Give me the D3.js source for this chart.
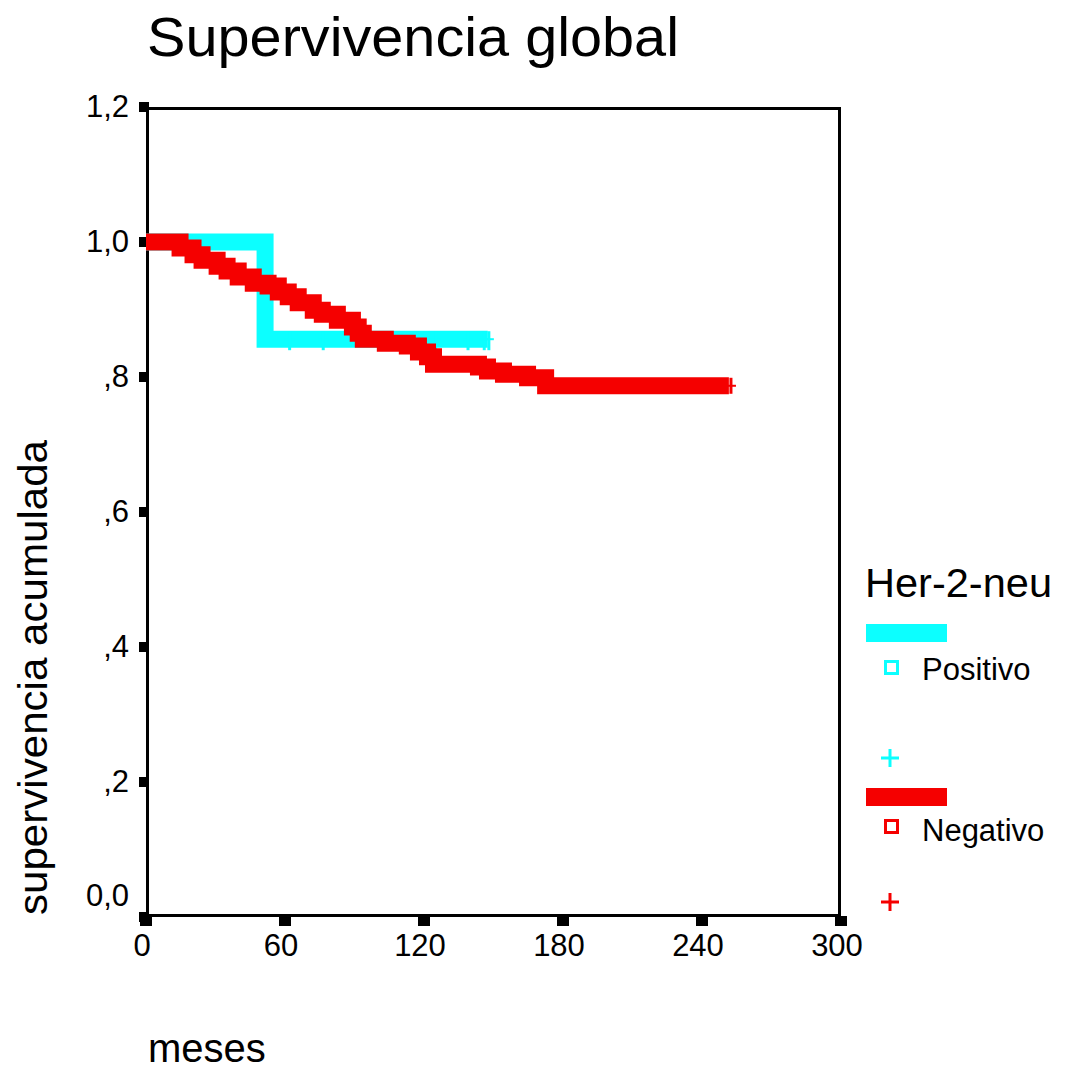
<!DOCTYPE html>
<html>
<head>
<meta charset="utf-8">
<script src="https://d3js.org/d3.v7.min.js"></script>
<style>
  html, body { margin: 0; padding: 0; background: #fff; }
  svg text { font-family: "Liberation Sans", Arial, sans-serif; fill: #000; }
</style>
</head>
<body>
<div id="chart"></div>
<script>
// Supervivencia global - Kaplan-Meier por Her-2-neu
const xTicks = [0, 60, 120, 180, 240, 300];
const yTicks = [0, 0.2, 0.4, 0.6, 0.8, 1.0, 1.2];
const yTickLabels = ["0,0", ",2", ",4", ",6", ",8", "1,0", "1,2"];

// Positivo (cyan)
const posTimes = [0, 51.4, 147.5];
const posSurv = [1.0, 0.856, 0.856];
const posCensor = [62, 76.5, 125, 139, 146, 148];

// Negativo (red)
const negTimes = [0, 14.7, 20.3, 24.2, 30.7, 35.0, 39.8, 46.3, 52.7, 57.1, 61.4, 65.7, 72.2, 76.1,
  82.6, 89.1, 91.6, 93.8, 103.3, 112.8, 117.6, 121.5, 124.1, 143.5, 147.4, 154.3, 164.7, 172.5, 251.6];
const negSurv = [1.0, 0.991, 0.981, 0.973, 0.964, 0.957, 0.948, 0.939, 0.935, 0.926, 0.919, 0.910, 0.899, 0.893,
  0.884, 0.874, 0.865, 0.856, 0.850, 0.846, 0.837, 0.830, 0.819, 0.815, 0.809, 0.804, 0.799, 0.787, 0.787];
const negCensor = [252.5];

const CYAN = "#0cffff";
const RED = "#f50000";

const width = 1065, height = 1070;
const svg = d3.select("#chart").append("svg")
  .attr("width", width).attr("height", height);

const x = d3.scaleLinear().domain([0, 300]).range([146, 841]);
const y = d3.scaleLinear().domain([0, 1.2]).range([917, 107]);

// marco
svg.append("rect")
  .attr("x", 147.5).attr("y", 108.5)
  .attr("width", 692).attr("height", 807)
  .attr("fill", "none").attr("stroke", "#000").attr("stroke-width", 3);

// ticks eje y
svg.selectAll(".ytick").data(yTicks).enter().append("rect")
  .attr("x", 139).attr("y", d => y(d) - 5)
  .attr("width", 10).attr("height", 10).attr("fill", "#000");
svg.selectAll(".ylab").data(yTicks).enter().append("text")
  .attr("x", 129)
  .attr("y", (d, i) => i === 0 ? 906 : y(d) + 10)
  .attr("text-anchor", "end")
  .attr("font-size", 31)
  .text((d, i) => yTickLabels[i]);

// ticks eje x
svg.selectAll(".xtick").data(xTicks).enter().append("rect")
  .attr("x", d => x(d) - 6).attr("y", 916)
  .attr("width", 12).attr("height", 10).attr("fill", "#000");
svg.selectAll(".xlab").data(xTicks).enter().append("text")
  .attr("x", d => x(d) - 4).attr("y", 956)
  .attr("text-anchor", "middle")
  .attr("font-size", 31)
  .text(d => d);

// curvas
const line = d3.line()
  .x(d => x(d[0])).y(d => y(d[1]))
  .curve(d3.curveStepAfter);

function survAt(times, surv, t) {
  let s = surv[0];
  for (let i = 0; i < times.length; i++) if (times[i] <= t) s = surv[i];
  return s;
}

function drawSeries(times, surv, censor, color, tail) {
  svg.append("path")
    .datum(times.map((t, i) => [t, surv[i]]))
    .attr("d", line)
    .attr("fill", "none")
    .attr("stroke", color)
    .attr("stroke-width", 17);
  const g = svg.append("g");
  censor.forEach(t => {
    const cx = x(t), cy = y(survAt(times, surv, t));
    g.append("line").attr("x1", cx - 5).attr("x2", cx + 5).attr("y1", cy).attr("y2", cy)
      .attr("stroke", color).attr("stroke-width", 2);
    g.append("line").attr("x1", cx).attr("x2", cx).attr("y1", cy - 8).attr("y2", cy + tail)
      .attr("stroke", color).attr("stroke-width", 3);
  });
}

drawSeries(posTimes, posSurv, posCensor, CYAN, 11);
drawSeries(negTimes, negSurv, negCensor, RED, 8);

// titulo
svg.append("text")
  .attr("x", 147).attr("y", 56)
  .attr("font-size", 55)
  .attr("textLength", 532).attr("lengthAdjust", "spacingAndGlyphs")
  .text("Supervivencia global");

// etiquetas ejes
svg.append("text")
  .attr("transform", "translate(47,915) rotate(-90)")
  .attr("font-size", 41)
  .attr("textLength", 475).attr("lengthAdjust", "spacingAndGlyphs")
  .text("supervivencia acumulada");

svg.append("text")
  .attr("x", 148).attr("y", 1062)
  .attr("font-size", 40)
  .text("meses");

// leyenda
svg.append("text")
  .attr("x", 865).attr("y", 597)
  .attr("font-size", 41)
  .attr("textLength", 187).attr("lengthAdjust", "spacingAndGlyphs")
  .text("Her-2-neu");

const legend = [
  { name: "Positivo", color: CYAN, bar: 624, box: 661.5, text: 680, plus: 758 },
  { name: "Negativo", color: RED, bar: 788, box: 820.5, text: 841, plus: 902 }
];
legend.forEach(l => {
  svg.append("rect").attr("x", 866).attr("y", l.bar).attr("width", 81).attr("height", 18)
    .attr("fill", l.color);
  svg.append("rect").attr("x", 885.5).attr("y", l.box).attr("width", 12).attr("height", 12)
    .attr("fill", "none").attr("stroke", l.color).attr("stroke-width", 3);
  svg.append("text").attr("x", 922).attr("y", l.text)
    .attr("font-size", 31).text(l.name);
  const cx = 890, cy = l.plus;
  svg.append("line").attr("x1", cx - 9).attr("x2", cx + 9).attr("y1", cy).attr("y2", cy)
    .attr("stroke", l.color).attr("stroke-width", 3);
  svg.append("line").attr("x1", cx).attr("x2", cx).attr("y1", cy - 9).attr("y2", cy + 9)
    .attr("stroke", l.color).attr("stroke-width", 3);
});
</script>
</body>
</html>
